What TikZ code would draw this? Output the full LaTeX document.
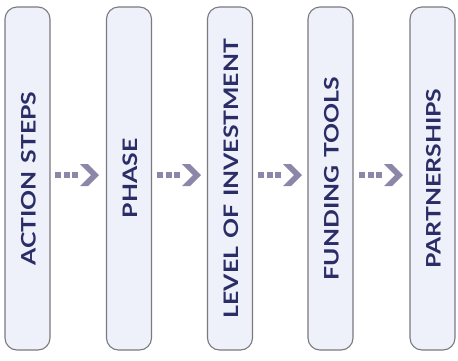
\documentclass[tikz,border=0pt]{standalone}
\usepackage{fontspec}
\setmainfont{Lato}
\newfontfamily\colfont[FakeStretch=1.24,WordSpace=1.3]{Lato}
\definecolor{boxfill}{HTML}{EEF0FA}
\definecolor{boxline}{HTML}{7A7A80}
\definecolor{txt}{HTML}{2B2D66}
\definecolor{arr}{HTML}{8C87A8}
\usetikzlibrary{calc}
\tikzset{
  x=1pt,y=-1pt,
  colbox/.style={draw=boxline, line width=1.1pt, fill=boxfill, rounded corners=12pt,
    minimum width=45pt, minimum height=343pt, inner sep=0pt},
  coltext/.style={rotate=90, text=txt, font=\colfont\bfseries\fontsize{20}{20}\selectfont, inner sep=0pt},
  sq/.style={fill=arr, draw=none, minimum size=6pt, inner sep=0pt},
}
\begin{document}
\begin{tikzpicture}
\useasboundingbox (0,0) rectangle (458,360);
\foreach \i/\cx/\t in {1/27.5/ACTION STEPS, 2/129/PHASE, 3/230/LEVEL OF INVESTMENT, 4/330.5/FUNDING TOOLS, 5/432.5/PARTNERSHIPS}{
  \node[colbox] (b\i) at (\cx,178.5) {};
  \node[coltext] (t\i) at ($(b\i.center)+(1,0)$) {\t};
}
\foreach \i/\ax in {1/78, 2/180, 3/281, 4/382}{
  \coordinate (m\i) at (\ax,175);
  \node[sq] (s\i a) at ($(m\i)+(-20,0)$) {};
  \node[sq] (s\i b) at ($(m\i)+(-11.5,0)$) {};
  \node[sq] (s\i c) at ($(m\i)+(-3,0)$) {};
  \fill[arr] ($(m\i)+(2,-11)$) -- ($(m\i)+(10,-11)$) -- ($(m\i)+(21,0)$) -- ($(m\i)+(10,11)$) -- ($(m\i)+(2,11)$) -- ($(m\i)+(13,0)$) -- cycle;
}
\end{tikzpicture}
\end{document}
